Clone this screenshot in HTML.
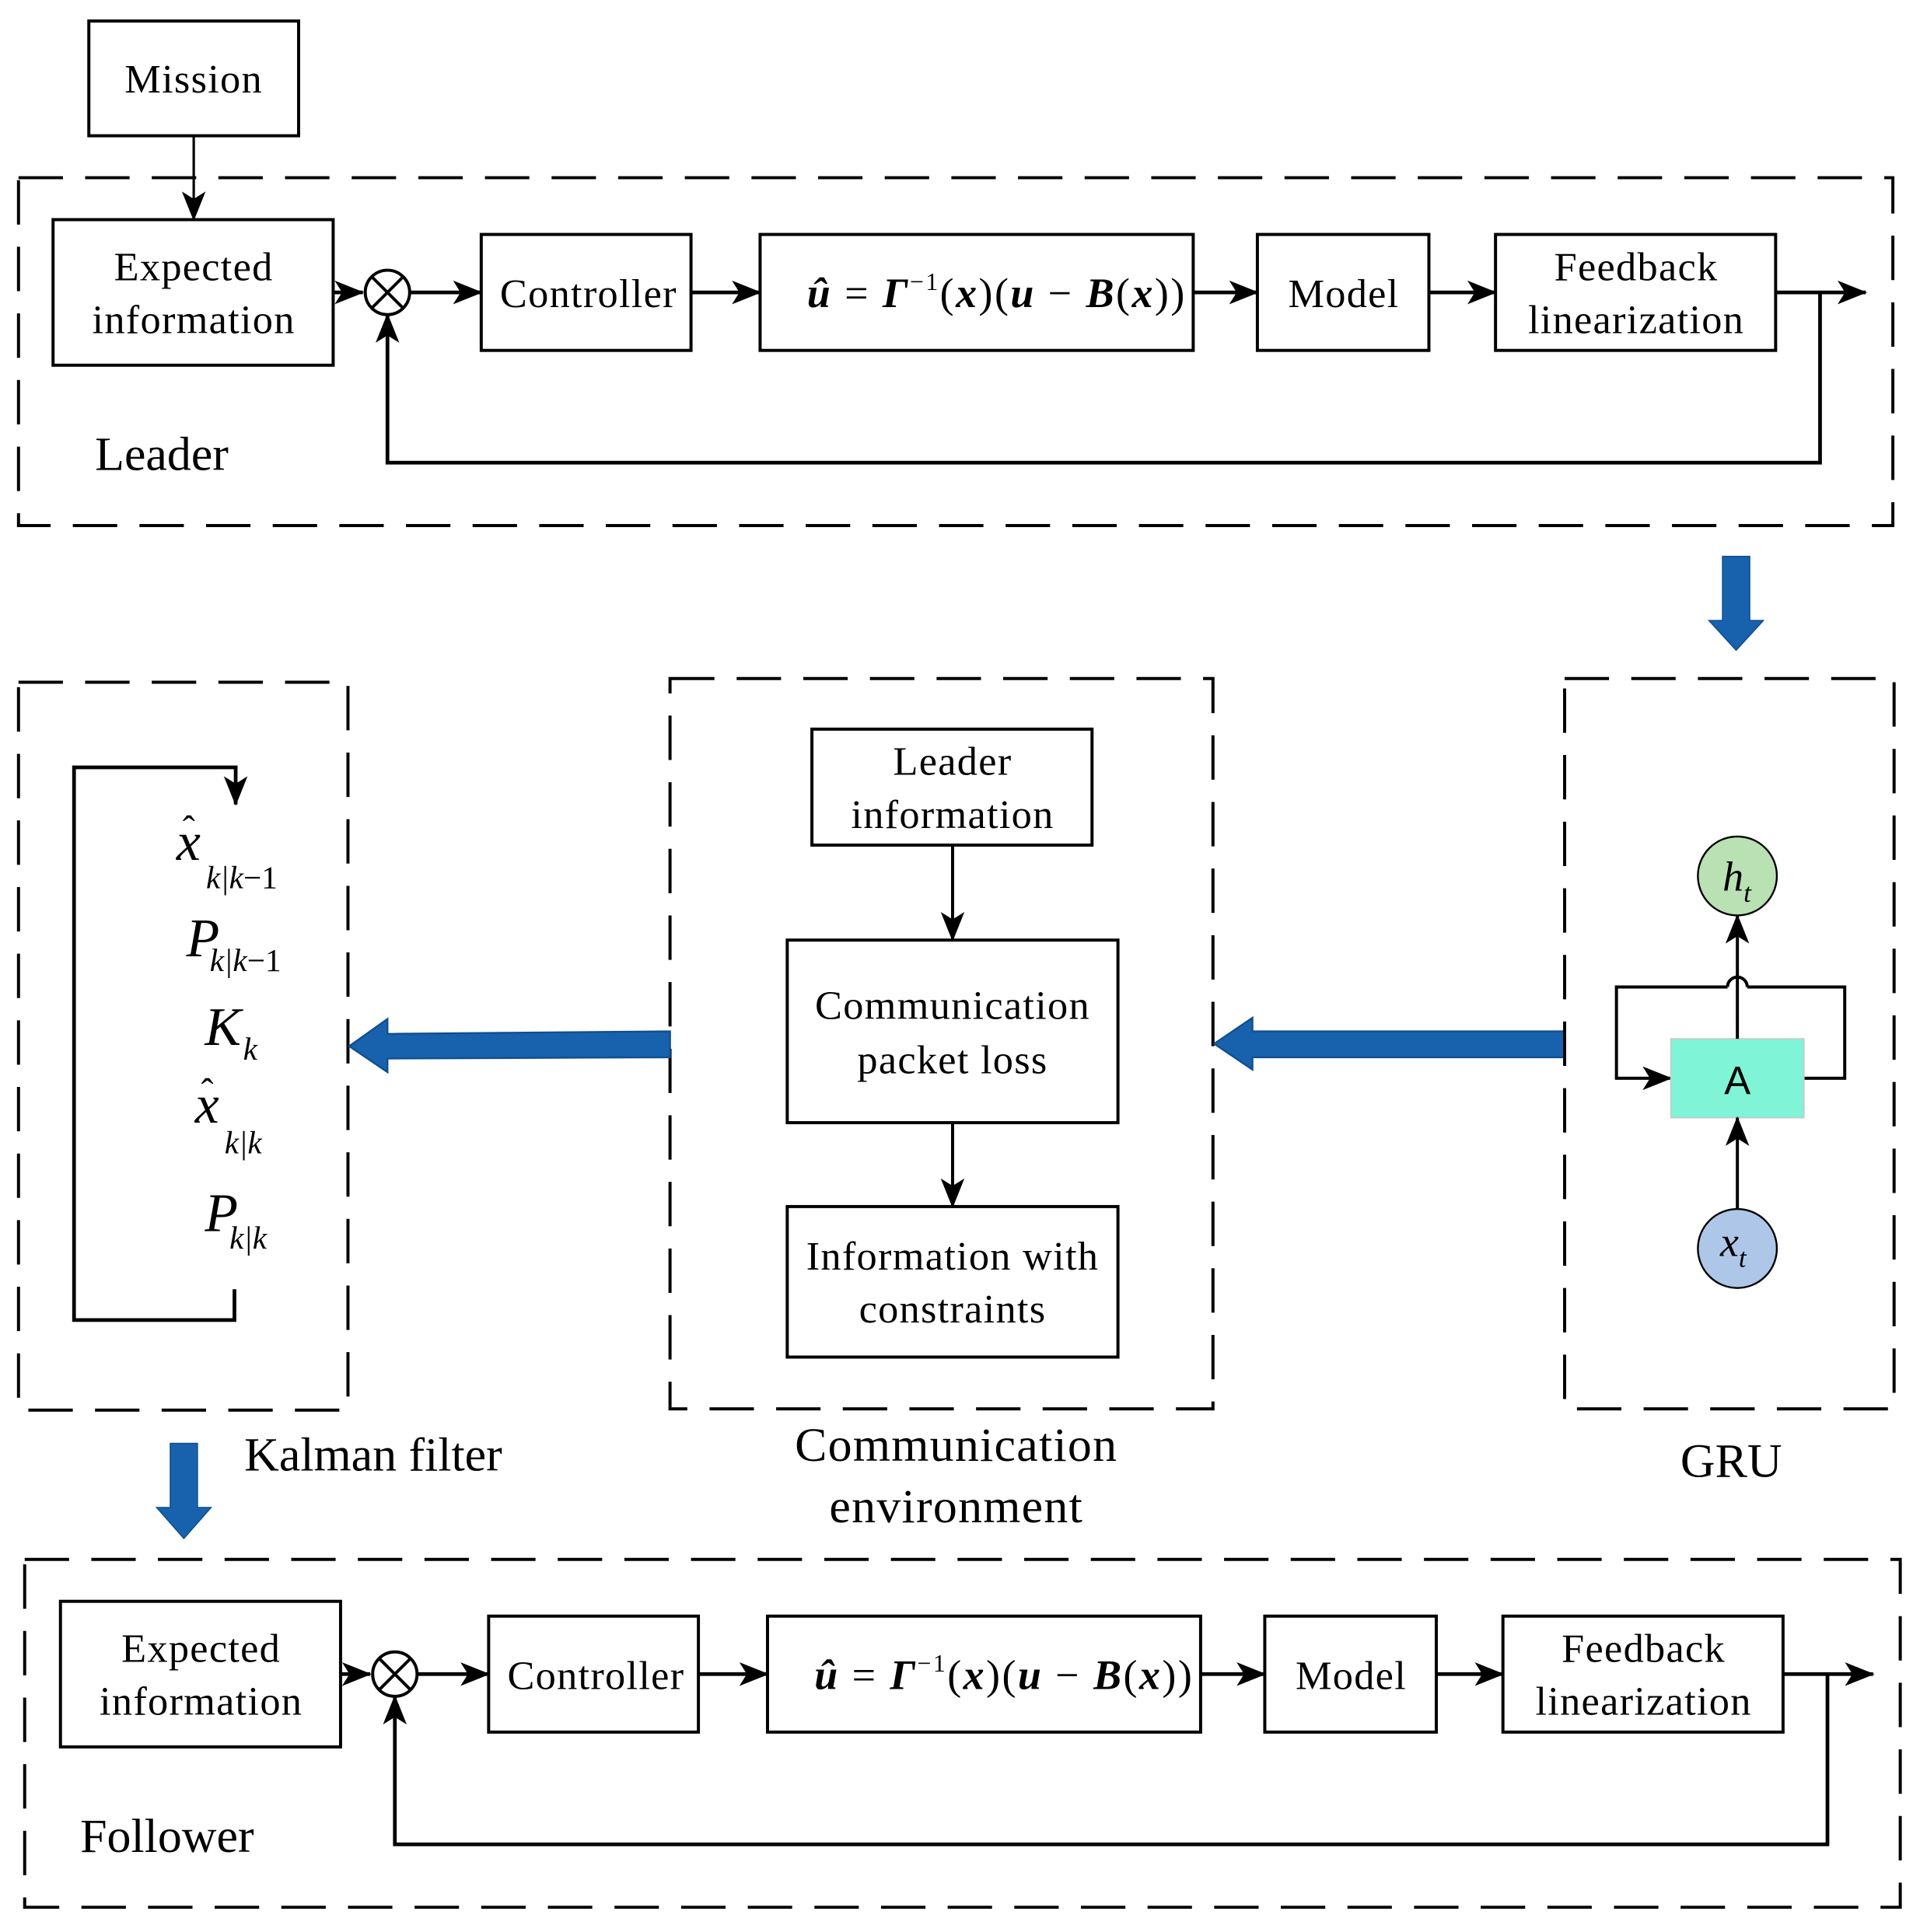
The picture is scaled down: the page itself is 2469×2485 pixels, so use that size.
<!DOCTYPE html>
<html><head><meta charset="utf-8"><style>
html,body{margin:0;padding:0;background:#fff;}
svg{display:block;}
text{font-family:"Liberation Serif",serif;fill:#000;}
.t{font-size:33px;text-anchor:middle;letter-spacing:0.8px;}
</style></head><body>
<svg width="2469" height="2485" viewBox="0 0 1556 1566" xmlns="http://www.w3.org/2000/svg">
<defs>
<marker id="ar2" viewBox="0 0 10 10" refX="9.5" refY="5" markerWidth="24" markerHeight="24" orient="auto" markerUnits="userSpaceOnUse">
<path d="M0,1 L10,5 L0,9 L2.5,5 Z" fill="#000"/></marker>
<g id="chain">
<rect x="43" y="178" width="227" height="118" fill="none" stroke="#000" stroke-width="2.5"/>
<text class="t" x="157" y="227">Expected</text>
<text class="t" x="157" y="270">information</text>
<line x1="270" y1="237" x2="294" y2="237" stroke="#000" stroke-width="3" marker-end="url(#ar2)"/>
<circle cx="314" cy="237" r="18" fill="none" stroke="#000" stroke-width="2.5"/>
<line x1="301" y1="224" x2="327" y2="250" stroke="#000" stroke-width="2.5"/>
<line x1="327" y1="224" x2="301" y2="250" stroke="#000" stroke-width="2.5"/>
<line x1="332" y1="237" x2="390" y2="237" stroke="#000" stroke-width="3" marker-end="url(#ar2)"/>
<rect x="390" y="190" width="170" height="94" fill="none" stroke="#000" stroke-width="2.5"/>
<text class="t" x="477" y="249">Controller</text>
<line x1="560" y1="237" x2="616" y2="237" stroke="#000" stroke-width="3" marker-end="url(#ar2)"/>
<rect x="616" y="190" width="351" height="94" fill="none" stroke="#000" stroke-width="2.5"/>
<text x="654" y="249" textLength="306" lengthAdjust="spacing" style="font-size:34px"><tspan font-weight="bold" font-style="italic">û</tspan> = <tspan font-weight="bold" font-style="italic">Γ</tspan><tspan font-size="20" dy="-14">−1</tspan><tspan dy="14">(</tspan><tspan font-weight="bold" font-style="italic">x</tspan>)(<tspan font-weight="bold" font-style="italic">u</tspan> − <tspan font-weight="bold" font-style="italic">B</tspan>(<tspan font-weight="bold" font-style="italic">x</tspan>))</text>
<line x1="967" y1="237" x2="1019" y2="237" stroke="#000" stroke-width="3" marker-end="url(#ar2)"/>
<rect x="1019" y="190" width="139" height="94" fill="none" stroke="#000" stroke-width="2.5"/>
<text class="t" x="1089" y="249">Model</text>
<line x1="1158" y1="237" x2="1212" y2="237" stroke="#000" stroke-width="3" marker-end="url(#ar2)"/>
<rect x="1212" y="190" width="227" height="94" fill="none" stroke="#000" stroke-width="2.5"/>
<text class="t" x="1326" y="227">Feedback</text>
<text class="t" x="1326" y="270">linearization</text>
<line x1="1439" y1="237" x2="1512" y2="237" stroke="#000" stroke-width="3" marker-end="url(#ar2)"/>
<polyline points="1475,237 1475,375 314,375 314,255" fill="none" stroke="#000" stroke-width="3" marker-end="url(#ar2)"/>
</g>
</defs>
<rect x="72" y="17" width="170" height="93" fill="none" stroke="#000" stroke-width="2.5"/>
<text class="t" x="157" y="75">Mission</text>
<line x1="157" y1="110" x2="157" y2="178" stroke="#000" stroke-width="2" marker-end="url(#ar2)"/>
<rect x="15" y="144" width="1519" height="282" fill="none" stroke="#000" stroke-width="2.5" stroke-dasharray="36,18"/>
<use href="#chain"/>
<text x="77" y="381" style="font-size:39px">Leader</text>
<rect x="20" y="1264" width="1520" height="282" fill="none" stroke="#000" stroke-width="2.5" stroke-dasharray="36,18"/>
<use href="#chain" transform="translate(6,1120)"/>
<text x="65" y="1501" style="font-size:39px">Follower</text>
<path d="M1396,451 L1418,451 L1418,503 L1429,503 L1407,527 L1385,503 L1396,503 Z" fill="#1862ad" stroke="#0f4f8f" stroke-width="1"/>
<path d="M138,1170 L160,1170 L160,1222 L171,1222 L149,1247 L127,1222 L138,1222 Z" fill="#1862ad" stroke="#0f4f8f" stroke-width="1"/>
<rect x="15" y="553" width="267" height="590" fill="none" stroke="#000" stroke-width="2.5" stroke-dasharray="36,18"/>
<polyline points="190,1045 190,1070 60,1070 60,622 191,622 191,652" fill="none" stroke="#000" stroke-width="3" marker-end="url(#ar2)"/>
<g style="font-size:44px;font-style:italic">
<text x="143" y="697">x</text><text x="148" y="682" style="font-style:normal;font-size:30px">ˆ</text>
<text x="167" y="720" style="font-size:26px">k|k<tspan font-style="normal">−1</tspan></text>
<text x="151" y="775">P</text><text x="170" y="787" style="font-size:26px">k|k<tspan font-style="normal">−1</tspan></text>
<text x="166" y="847">K</text><text x="197" y="859" style="font-size:26px">k</text>
<text x="158" y="910">x</text><text x="163" y="895" style="font-style:normal;font-size:30px">ˆ</text>
<text x="182" y="935" style="font-size:26px">k|k</text>
<text x="166" y="998">P</text><text x="186" y="1012" style="font-size:26px">k|k</text>
</g>
<text x="198" y="1192" style="font-size:39px">Kalman filter</text>
<rect x="543" y="550" width="440" height="592" fill="none" stroke="#000" stroke-width="2.5" stroke-dasharray="36,18"/>
<rect x="658" y="591" width="227" height="94" fill="none" stroke="#000" stroke-width="2.5"/>
<text class="t" x="772" y="628">Leader</text>
<text class="t" x="772" y="671">information</text>
<line x1="772" y1="685" x2="772" y2="762" stroke="#000" stroke-width="2.5" marker-end="url(#ar2)"/>
<rect x="638" y="762" width="268" height="148" fill="none" stroke="#000" stroke-width="2.5"/>
<text class="t" x="772" y="826">Communication</text>
<text class="t" x="772" y="870">packet loss</text>
<line x1="772" y1="910" x2="772" y2="978" stroke="#000" stroke-width="2.5" marker-end="url(#ar2)"/>
<rect x="638" y="978" width="268" height="122" fill="none" stroke="#000" stroke-width="2.5"/>
<text class="t" x="772" y="1029">Information with</text>
<text class="t" x="772" y="1072">constraints</text>
<text x="775" y="1184" style="font-size:39px;text-anchor:middle;letter-spacing:0.8px">Communication</text>
<text x="775" y="1234" style="font-size:39px;text-anchor:middle;letter-spacing:0.8px">environment</text>
<path d="M543,836 L314,838 L314,826 L283,848 L314,869 L314,858 L543,857 Z" fill="#1862ad" stroke="#0f4f8f" stroke-width="1.5"/>
<path d="M1268,836 L1015,836 L1015,825 L984,846 L1015,867 L1015,857 L1268,857 Z" fill="#1862ad" stroke="#0f4f8f" stroke-width="1.5"/>
<rect x="1268" y="550" width="267" height="592" fill="none" stroke="#000" stroke-width="2.5" stroke-dasharray="36,18"/>
<polyline points="1462,874 1495,874 1495,800 1416,800" fill="none" stroke="#000" stroke-width="2.5"/>
<path d="M1416,800 A8,8 0 0 0 1400,800" fill="none" stroke="#000" stroke-width="2.5"/>
<polyline points="1400,800 1310,800 1310,874 1354,874" fill="none" stroke="#000" stroke-width="2.5" marker-end="url(#ar2)"/>
<rect x="1354" y="842" width="108" height="64" fill="#80f4d6" stroke="#c8c8c8" stroke-width="1"/>
<text x="1408" y="887" style="font-family:'Liberation Sans',sans-serif;font-size:32px;text-anchor:middle">A</text>
<line x1="1408" y1="842" x2="1408" y2="742" stroke="#000" stroke-width="2.5" marker-end="url(#ar2)"/>
<line x1="1408" y1="980" x2="1408" y2="906" stroke="#000" stroke-width="2.5" marker-end="url(#ar2)"/>
<ellipse cx="1408" cy="710" rx="32" ry="32" fill="#b9e1b3" stroke="#000" stroke-width="1.5"/>
<text x="1396" y="722" style="font-size:34px;font-style:italic">h<tspan font-size="22" dy="9">t</tspan></text>
<ellipse cx="1408" cy="1012" rx="32" ry="32" fill="#aec7e8" stroke="#000" stroke-width="1.5"/>
<text x="1394" y="1018" style="font-size:34px;font-style:italic">x<tspan font-size="22" dy="9">t</tspan></text>
<text x="1403" y="1197" style="font-size:39px;text-anchor:middle">GRU</text>
</svg>
</body></html>
